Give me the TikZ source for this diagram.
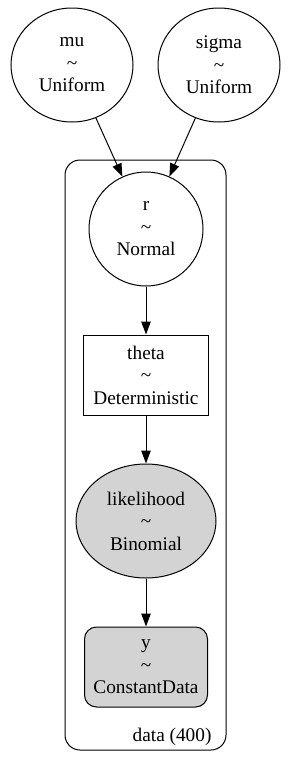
\documentclass[tikz,border=0pt]{standalone}
\usepackage{fontspec}
\setmainfont{Liberation Serif}
\usetikzlibrary{shapes.geometric, arrows.meta, positioning, fit}
\definecolor{gvgray}{RGB}{211,211,211}
\newcommand{\gvfont}{\fontsize{19.3}{22.5}\selectfont}
\tikzstyle{freerv} = [ellipse, draw=black, line width=1pt, inner sep=0pt, minimum width=122pt, minimum height=114pt, align=center, font=\gvfont]
\tikzstyle{latentrv} = [circle, draw=black, line width=1pt, inner sep=0pt, minimum size=114pt, align=center, font=\gvfont]
\tikzstyle{detbox} = [rectangle, draw=black, line width=1pt, inner sep=0pt, minimum width=125pt, minimum height=80pt, align=center, font=\gvfont]
\tikzstyle{obsrv} = [ellipse, draw=black, fill=gvgray, line width=1pt, inner sep=0pt, minimum width=140pt, minimum height=114pt, align=center, font=\gvfont]
\tikzstyle{databox} = [rectangle, rounded corners=12pt, draw=black, fill=gvgray, line width=1pt, inner sep=0pt, minimum width=123pt, minimum height=80pt, align=center, font=\gvfont]
\tikzstyle{plate} = [rectangle, rounded corners=15pt, draw=black, line width=1pt, inner sep=0pt]
\tikzstyle{arrow} = [line width=1pt, -{Triangle[length=13pt, width=9.5pt]}]

\begin{document}
\begin{tikzpicture}[x=1pt, y=-1pt, node distance=146pt]
\useasboundingbox (0,0) rectangle (289,761);
% data plate
\node (plate) [plate, fit={(65,160) (226,750)}] {};
\node (platelabel) [anchor=base east, font=\gvfont] at (215,741) {data (400)};

\node (mu) [freerv] at (72,65) {mu\\\textasciitilde\\Uniform};
\node (sigma) [freerv] at (219,65) {sigma\\\textasciitilde\\Uniform};
\node (r) [latentrv] at (146,229) {r\\\textasciitilde\\Normal};
\node (theta) [detbox, below of=r] {theta\\\textasciitilde\\Deterministic};
\node (likelihood) [obsrv, below of=theta] {likelihood\\\textasciitilde\\Binomial};
\node (y) [databox, below of=likelihood] {y\\\textasciitilde\\ConstantData};

\draw [arrow] (mu) -- (r);
\draw [arrow] (sigma) -- (r);
\draw [arrow] (r) -- (theta);
\draw [arrow] (theta) -- (likelihood);
\draw [arrow] (likelihood) -- (y);
\end{tikzpicture}
\end{document}
